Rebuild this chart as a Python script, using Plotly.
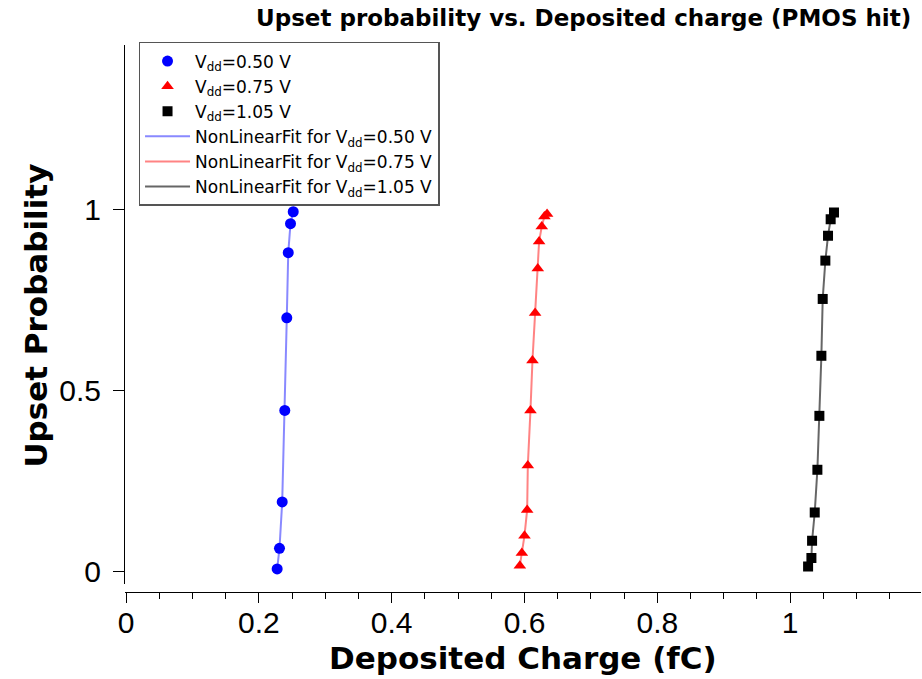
import plotly.graph_objects as go

# Deposited charge (fC) and upset probability for each supply voltage
charge_050 = [0.2276, 0.2311, 0.2352, 0.2391, 0.2421, 0.2443, 0.2477, 0.2518]
prob_050 = [0.008, 0.065, 0.193, 0.446, 0.702, 0.882, 0.962, 0.995]

charge_075 = [0.593, 0.596, 0.600, 0.604, 0.605, 0.609, 0.612, 0.616, 0.620, 0.622, 0.626, 0.630, 0.634]
prob_075 = [0.017, 0.052, 0.100, 0.171, 0.294, 0.446, 0.584, 0.715, 0.838, 0.913, 0.954, 0.982, 0.989]

charge_105 = [1.027, 1.032, 1.033, 1.037, 1.041, 1.044, 1.047, 1.049, 1.053, 1.057, 1.061, 1.066]
prob_105 = [0.015, 0.038, 0.086, 0.164, 0.282, 0.431, 0.597, 0.754, 0.860, 0.929, 0.974, 0.993]

x_ticks = [0, 0.2, 0.4, 0.6, 0.8, 1]
y_ticks = [0, 0.5, 1]

series = [
    ("0.50 V", charge_050, prob_050, "blue", "circle", 11, "rgba(40,40,255,0.55)"),
    ("0.75 V", charge_075, prob_075, "red", "triangle-up", 11, "rgba(255,30,30,0.55)"),
    ("1.05 V", charge_105, prob_105, "black", "square", 10, "rgba(0,0,0,0.6)"),
]

fig = go.Figure()

# fitted curves go underneath the measured points
for i, (label, xs, ys, color, symbol, size, fitcolor) in enumerate(series):
    fig.add_trace(go.Scatter(
        x=xs, y=ys, mode="lines",
        line=dict(color=fitcolor, width=2),
        name=f"NonLinearFit for V<sub>dd</sub>={label}",
        legendrank=10 + i,
    ))

for i, (label, xs, ys, color, symbol, size, fitcolor) in enumerate(series):
    fig.add_trace(go.Scatter(
        x=xs, y=ys, mode="markers",
        marker=dict(color=color, symbol=symbol, size=size, line=dict(width=0)),
        name=f"V<sub>dd</sub>={label}",
        legendrank=1 + i,
    ))

tick_font = dict(family="Liberation Sans, Arial, sans-serif", size=30, color="black")
bold_font = "DejaVu Sans, Verdana, sans-serif"

fig.update_layout(
    width=922, height=679,
    margin=dict(l=125, r=1, t=45, b=87),
    paper_bgcolor="white", plot_bgcolor="white",
    showlegend=True,
    title=dict(
        text="<b>Upset probability vs. Deposited charge (PMOS hit)</b>",
        font=dict(family=bold_font, size=23, color="black"),
        x=0.633, xref="container", xanchor="center",
        y=0.986, yref="container", yanchor="top",
    ),
    legend=dict(
        x=0.017, y=1.0055, xanchor="left", yanchor="top",
        bgcolor="white", bordercolor="#555555", borderwidth=1.5,
        font=dict(family="DejaVu Sans, sans-serif", size=17, color="black"),
        itemwidth=45, tracegroupgap=0,
    ),
    xaxis=dict(
        range=[-0.0015, 1.197],
        tickvals=x_ticks, ticktext=[f"{v:g}" for v in x_ticks],
        ticks="outside", ticklen=10, tickwidth=1, tickcolor="black",
        minor=dict(dtick=0.05, tick0=0, ticks="outside", ticklen=6, tickcolor="black"),
        showline=True, linecolor="black", linewidth=1,
        showgrid=False, zeroline=False,
        anchor="free", position=0,
        tickfont=tick_font, ticklabelstandoff=-6,
    ),
    yaxis=dict(
        domain=[0.015, 1],
        range=[-0.0331, 1.4558],
        tickvals=y_ticks, ticktext=[f"{v:g}" for v in y_ticks],
        ticks="outside", ticklen=11, tickwidth=1, tickcolor="black",
        showline=True, linecolor="black", linewidth=1,
        showgrid=False, zeroline=False,
        tickfont=tick_font, ticklabelstandoff=6,
    ),
    annotations=[
        dict(text="<b>Deposited Charge (fC)</b>", xref="paper", yref="paper",
             x=0.5, y=-0.1207, xanchor="center", yanchor="middle", showarrow=False,
             font=dict(family=bold_font, size=31, color="black")),
        dict(text="<b>Upset Probability</b>", xref="paper", yref="paper",
             x=-0.112, y=0.505, xanchor="center", yanchor="middle", showarrow=False,
             textangle=-90, font=dict(family=bold_font, size=31, color="black")),
    ],
)

fig.write_html("out.html")
